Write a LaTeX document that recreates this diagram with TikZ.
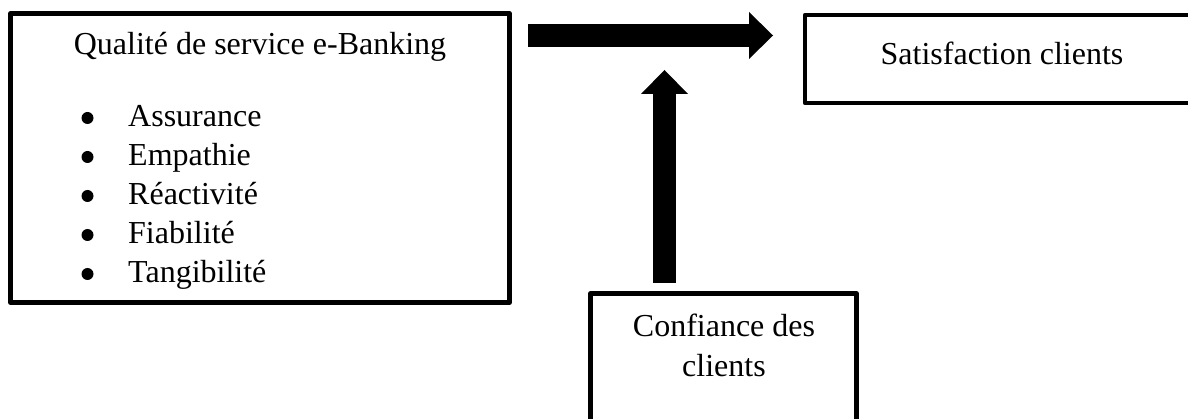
\documentclass[tikz,border=0pt]{standalone}
\usepackage{fontspec}
\setmainfont{Liberation Serif}
\usetikzlibrary{arrows.meta}
\begin{document}
\begin{tikzpicture}[x=1pt,y=-1pt,
  frame/.style={draw=black,line width=4.5pt,line join=round},
  lbl/.style={inner sep=0pt,anchor=base,font=\fontsize{32}{40}\selectfont},
  item/.style={inner sep=0pt,anchor=base west,font=\fontsize{32}{40}\selectfont},
  dot/.style={circle,fill=black,inner sep=0pt,minimum size=12pt},
  blockarrow/.style={line width=23pt,-{Triangle[length=24pt,width=47pt,line width=0pt]}}]
\useasboundingbox (0,0) rectangle (1188,419);
\clip (0,0) rectangle (1188,419);
\fill[white] (0,0) rectangle (1188,419);

% main box with the list of dimensions
\draw[frame] (10.5,13.5) rectangle (509.5,302.5);
\node[lbl] (qual) at (260,55) {Qualité de service e-Banking};
\foreach \t [count=\i] in {Assurance,Empathie,Réactivité,Fiabilité,Tangibilité}{
  \node[dot] (b\i) at (87.5,79+39*\i) {};
  \node[item] (it\i) at (128,88+39*\i) {\t};
}

% outcome box, running past the right edge
\draw[frame] (805,15) rectangle (1210,103);
\node[lbl] (sat) at (1002,65) {Satisfaction clients};

% trust box, running past the bottom edge
\draw[frame] (590.5,293.5) rectangle (856.5,440);
\node[lbl] (conf1) at (724,337) {Confiance des};
\node[lbl] (conf2) at (724,377) {clients};

% block arrows
\coordinate (hs) at (528,35.5);
\coordinate (he) at (773,35.5);
\coordinate (vs) at (664.5,283);
\coordinate (ve) at (664.5,70);
\draw[blockarrow] (hs) -- (he);
\draw[blockarrow] (vs) -- (ve);
\end{tikzpicture}
\end{document}
